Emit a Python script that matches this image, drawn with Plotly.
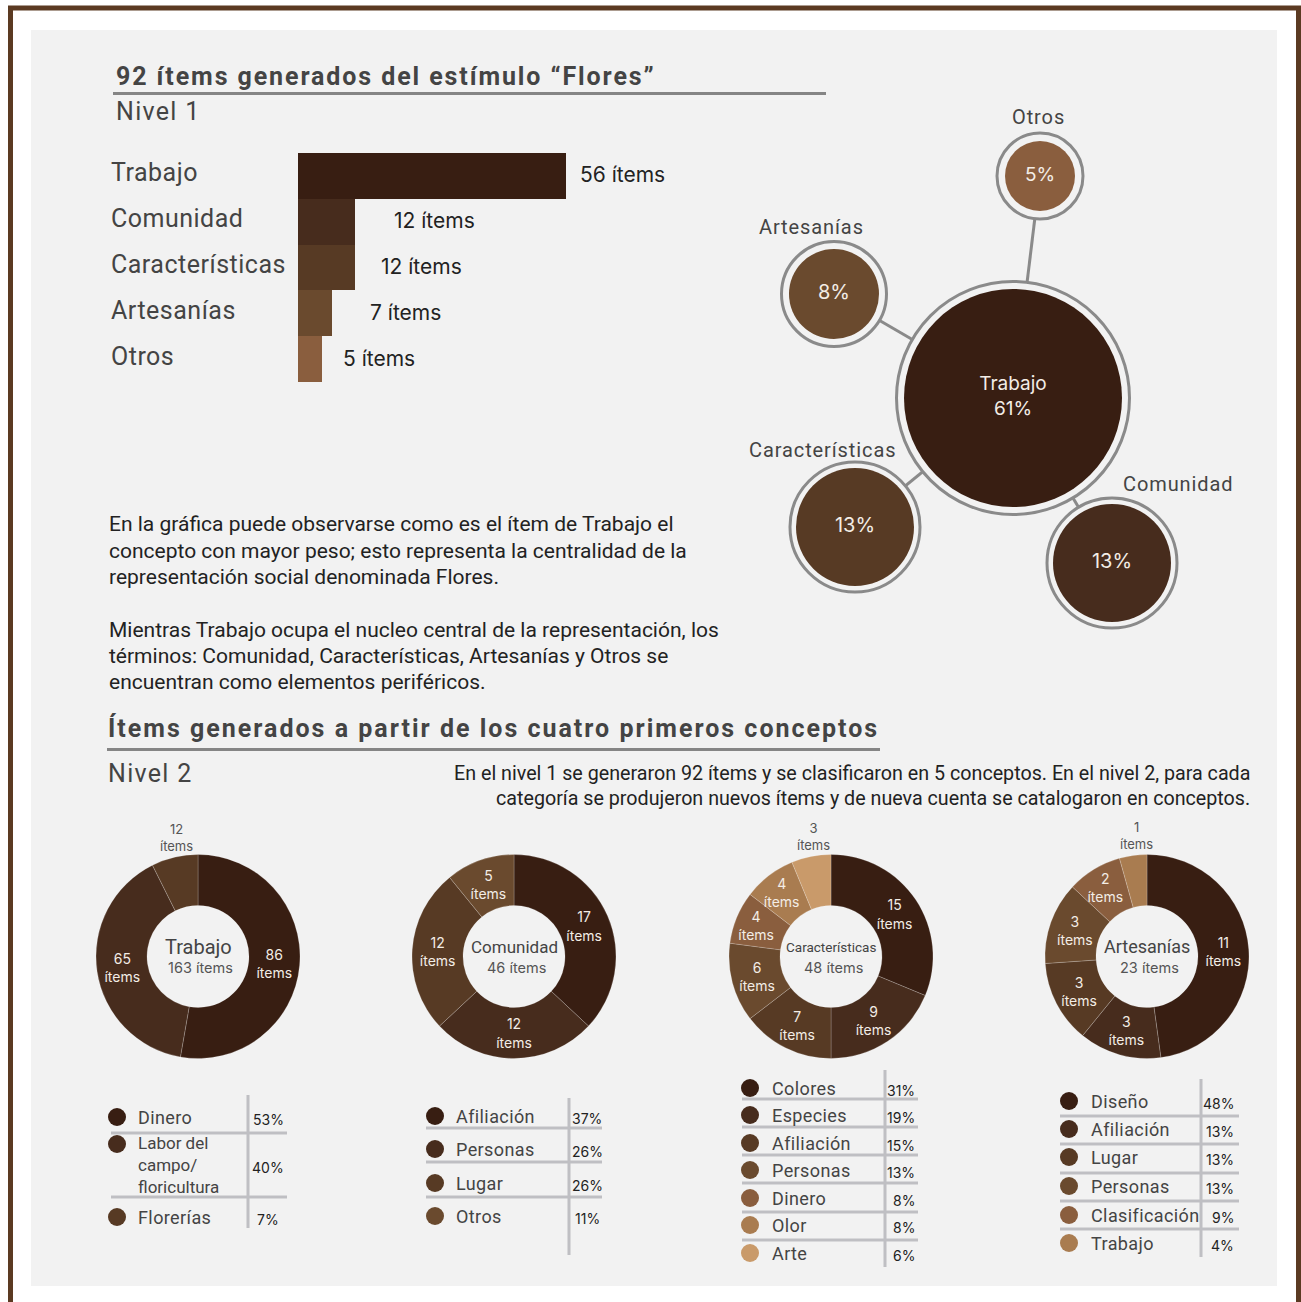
import math
import plotly.graph_objects as go

W, H = 1301, 1302

# ---------------- data ----------------
lvl1_concepts = ["Trabajo", "Comunidad", "Características", "Artesanías", "Otros"]
lvl1_items = [56, 12, 12, 7, 5]
lvl1_pct = [61, 13, 13, 8, 5]

trabajo_cats = ["Dinero", "Labor del campo/floricultura", "Florerías"]
trabajo_items = [86, 65, 12]
trabajo_pct = [53, 40, 7]

comunidad_cats = ["Afiliación", "Personas", "Lugar", "Otros"]
comunidad_items = [17, 12, 12, 5]
comunidad_pct = [37, 26, 26, 11]

caract_cats = ["Colores", "Especies", "Afiliación", "Personas", "Dinero", "Olor", "Arte"]
caract_items = [15, 9, 7, 6, 4, 4, 3]
caract_pct = [31, 19, 15, 13, 8, 8, 6]

artes_cats = ["Diseño", "Afiliación", "Lugar", "Personas", "Clasificación", "Trabajo"]
artes_items = [11, 3, 3, 3, 2, 1]
artes_pct = [48, 13, 13, 13, 9, 4]

title1 = "92 ítems generados del estímulo “Flores”"
title2 = "Ítems generados a partir de los cuatro primeros conceptos"
para1 = ["En la gráfica puede observarse como es el ítem de Trabajo el",
         "concepto con mayor peso; esto representa la centralidad de la",
         "representación social denominada Flores."]
para2 = ["Mientras Trabajo ocupa el nucleo central de la representación, los",
         "términos: Comunidad, Características, Artesanías y Otros se",
         "encuentran como elementos periféricos."]
para3 = ["En el nivel 1 se generaron 92 ítems y se clasificaron en 5 conceptos. En el nivel 2, para cada",
         "categoría se produjeron nuevos ítems y de nueva cuenta se catalogaron en conceptos."]

# ---------------- style ----------------
PAL = ["#381e12", "#472c1d", "#573a24", "#6a4a2e", "#8a5e3e", "#a97c50", "#c99a6a"]
BG = "#f2f2f2"
GRAY_LINE = "#8a8a8a"
TBL_LINE = "#bfbfc3"
TXT = "#444444"
TXT2 = "#222222"
SANS = "Roboto"
SANS2 = "Inter"


def px(x):
    return x / W


def py(y):
    return 1 - y / H


fig = go.Figure()
shapes = []
ann = []


def sp(t, ls):
    return f'<span style="letter-spacing:{ls}px">{t}</span>' if ls else t


def text(t, x, y, size, color=TXT, family=SANS, xanchor="left", yanchor="middle", ls=0, align=None):
    ann.append(dict(text=sp(t, ls), x=px(x), y=py(y), xref="paper", yref="paper",
                    xanchor=xanchor, yanchor=yanchor, showarrow=False,
                    align=align if align else ("left" if xanchor == "left" else
                                               "right" if xanchor == "right" else "center"),
                    font=dict(size=size, color=color, family=family)))


def rect(x0, y0, x1, y1, fill=None, line=None, lw=0, layer="below"):
    shapes.append(dict(type="rect", xref="paper", yref="paper",
                       x0=px(x0), x1=px(x1), y0=py(y0), y1=py(y1),
                       fillcolor=fill if fill else "rgba(0,0,0,0)",
                       line=dict(color=line if line else "rgba(0,0,0,0)", width=lw),
                       layer=layer))


def seg(x0, y0, x1, y1, color, lw):
    shapes.append(dict(type="line", xref="paper", yref="paper",
                       x0=px(x0), x1=px(x1), y0=py(y0), y1=py(y1),
                       line=dict(color=color, width=lw), layer="above"))


# frame and panel
rect(10.5, 8, 1298.5, 1312, fill="white", line="#5b3a22", lw=5)
rect(31, 30, 1277, 1286, fill=BG)

# ---------------- titles and texts ----------------
text("<b>" + sp(title1, 1.9) + "</b>", 114, 77, 25)
rect(113, 92, 826, 95, fill="#858585")
text("Nivel 1", 114, 111, 25, ls=1.3)

for i, l in enumerate(para1):
    text(l, 107, 524 + i * 26.5, 21, TXT2, SANS)
for i, l in enumerate(para2):
    text(l, 107, 630 + i * 26.2, 21, TXT2, SANS)

text("<b>" + sp(title2, 2) + "</b>", 106, 728, 25)
rect(107, 748, 880, 751, fill="#858585")
text("Nivel 2", 106, 773, 25, ls=1.3)
for i, l in enumerate(para3):
    text(l, 1252, 773 + i * 25, 19.7, TXT2, SANS, xanchor="right")

# ---------------- level-1 bar chart ----------------
bar_x0, bar_x1 = 298, 700
bar_top, bar_bot = 153, 382
px_per_item = 268 / 56
fig.add_trace(go.Bar(
    x=lvl1_items, y=lvl1_concepts, orientation="h",
    marker=dict(color=PAL[:5], line=dict(width=0)),
    xaxis="x", yaxis="y", hoverinfo="skip", showlegend=False))
label_offsets = [12, 37, 24, 36, 19]
for name, v, off in zip(lvl1_concepts, lvl1_items, label_offsets):
    ann.append(dict(text=f"{v} ítems", x=v, y=name, xref="x", yref="y",
                    xanchor="left", yanchor="middle", xshift=off, yshift=1,
                    showarrow=False, font=dict(size=21, color=TXT2, family=SANS2)))
    ann.append(dict(text=sp(name, 0.5), x=px(109), y=name, xref="paper", yref="y",
                    xanchor="left", yanchor="middle", yshift=3, showarrow=False,
                    font=dict(size=25, color=TXT, family=SANS)))

# ---------------- bubble chart ----------------
bub_pos = [(1013, 398), (1112, 563), (855, 527), (834, 294), (1040, 176)]
bub_r_in = [109, 59, 59, 45, 35]
bub_r_out = [118, 66.5, 66.5, 54, 44.5]
bub_txt_size = [19, 20, 20, 20, 19]
lx, ly = [], []
for (x, y) in bub_pos[1:]:
    lx += [bub_pos[0][0], x, None]
    ly += [bub_pos[0][1], y, None]
fig.add_trace(go.Scatter(x=lx, y=ly, mode="lines", line=dict(color=GRAY_LINE, width=3),
                         xaxis="x2", yaxis="y2", hoverinfo="skip", showlegend=False))
fig.add_trace(go.Scatter(
    x=[p[0] for p in bub_pos], y=[p[1] for p in bub_pos], mode="markers",
    marker=dict(size=[2 * r - 3 for r in bub_r_out], color=BG,
                line=dict(color=GRAY_LINE, width=3), opacity=1),
    xaxis="x2", yaxis="y2", hoverinfo="skip", showlegend=False))
bub_text = [f"{lvl1_concepts[0]}<br>{lvl1_pct[0]}%"] + [f"{p}%" for p in lvl1_pct[1:]]
fig.add_trace(go.Scatter(
    x=[p[0] for p in bub_pos], y=[p[1] for p in bub_pos], mode="markers+text",
    marker=dict(size=[2 * r for r in bub_r_in], color=PAL[:5], line=dict(width=0), opacity=1),
    text=bub_text, textposition="middle center",
    textfont=dict(color="#f3ede6", size=bub_txt_size, family=SANS2),
    xaxis="x2", yaxis="y2", hoverinfo="skip", showlegend=False))
bub_label_pos = [None, (1178, 484), (822, 450), (811, 227), (1038, 117)]
for name, p in zip(lvl1_concepts, bub_label_pos):
    if p:
        text(name, p[0], p[1], 20, TXT, SANS, xanchor="center", ls=0.9)

# ---------------- donuts ----------------
donuts = [
    ("Trabajo", trabajo_cats, trabajo_items, trabajo_pct, 198, 20),
    ("Comunidad", comunidad_cats, comunidad_items, comunidad_pct, 514, 17),
    ("Características", caract_cats, caract_items, caract_pct, 831, 13.5),
    ("Artesanías", artes_cats, artes_items, artes_pct, 1147, 18),
]
outside_slices = {"Trabajo": [2], "Características": [6], "Artesanías": [5]}
cy, R = 956.5, 102
for name, cats, items, pct, cx, tsize in donuts:
    n = len(items)
    outs = outside_slices.get(name, [])
    pos = ["none" if i in outs else "inside" for i in range(n)]
    fig.add_trace(go.Pie(
        values=items, labels=cats, sort=False, direction="clockwise", rotation=0,
        hole=0.5, marker=dict(colors=PAL[:n], line=dict(color="rgba(255,255,255,0.25)", width=0.8)),
        text=[f"{v}<br>ítems" for v in items], textinfo="text", textposition=pos,
        insidetextorientation="horizontal",
        insidetextfont=dict(color="#f3ede6", size=14, family=SANS2),
        domain=dict(x=[px(cx - R), px(cx + R)], y=[py(cy + R), py(cy - R)]),
        hoverinfo="skip", showlegend=False))
    total = sum(items)
    for i in outs:
        mid = (sum(items[:i]) + items[i] / 2) / total * 2 * math.pi
        d = R + 20
        text(f"{items[i]}<br>ítems", cx + d * math.sin(mid) + 6, cy - d * math.cos(mid),
             13, "#555555", SANS2, xanchor="center")
    text(name, cx, cy - 10, tsize, TXT, SANS, xanchor="center")
    text(f"{total} ítems", cx + 2, cy + 10.5, 14.5, "#555555", SANS2, xanchor="center")

# ---------------- legend tables ----------------
tables = [
    dict(cats=trabajo_cats, pct=trabajo_pct, dot_x=117, lab_x=136, pct_x=268, align="center",
         rows=[1117, 1165, 1217], wrap={1: "Labor del<br>campo/<br>floricultura"},
         seps=[1133, 1197], sx=(111, 287), vx=248, vy=(1095, 1228)),
    dict(cats=comunidad_cats, pct=comunidad_pct, dot_x=435, lab_x=454, pct_x=587, align="center",
         rows=[1116, 1149, 1183, 1216], wrap={},
         seps=[1128, 1162, 1197], sx=(426, 602), vx=569, vy=(1098, 1255)),
    dict(cats=caract_cats, pct=caract_pct, dot_x=750, lab_x=770, pct_x=917, align="right",
         rows=[1088, 1115, 1143, 1170, 1198, 1225, 1253], wrap={},
         seps=[1099, 1127, 1155, 1183, 1212, 1240], sx=(742, 918), vx=885, vy=(1070, 1267)),
    dict(cats=artes_cats, pct=artes_pct, dot_x=1069, lab_x=1089, pct_x=1236, align="right",
         rows=[1101, 1129, 1157, 1186, 1215, 1243], wrap={},
         seps=[1116, 1144, 1173, 1201, 1229], sx=(1060, 1239), vx=1201, vy=(1079, 1257)),
]
dot_x, dot_y, dot_c = [], [], []
for t in tables:
    for s in t["seps"]:
        seg(t["sx"][0], s, t["sx"][1], s, TBL_LINE, 3)
    seg(t["vx"], t["vy"][0], t["vx"], t["vy"][1], TBL_LINE, 3)
    for i, (c, p, y) in enumerate(zip(t["cats"], t["pct"], t["rows"])):
        if i in t["wrap"]:
            text(t["wrap"][i], t["lab_x"], y, 17, TXT, SANS, align="left")
            ydot = y - 21
        else:
            text(c, t["lab_x"], y, 18, TXT, SANS, ls=0.4)
            ydot = y
        text(f"{p}%", t["pct_x"], y + 2, 14, TXT2, SANS2,
             xanchor="center" if t["align"] == "center" else "right")
        dot_x.append(t["dot_x"])
        dot_y.append(ydot)
        dot_c.append(PAL[i])
fig.add_trace(go.Scatter(x=dot_x, y=dot_y, mode="markers",
                         marker=dict(size=18, color=dot_c, line=dict(width=0)),
                         xaxis="x2", yaxis="y2", hoverinfo="skip", showlegend=False))

fig.update_layout(
    width=W, height=H, margin=dict(l=0, r=0, t=0, b=0),
    paper_bgcolor="white", plot_bgcolor="rgba(0,0,0,0)",
    showlegend=False, bargap=0,
    uniformtext=dict(minsize=14, mode="show"),
    xaxis=dict(domain=[px(bar_x0), px(bar_x1)], range=[0, (bar_x1 - bar_x0) / px_per_item],
               visible=False, fixedrange=True),
    yaxis=dict(domain=[py(bar_bot), py(bar_top)], autorange="reversed",
               visible=False, fixedrange=True, anchor="x"),
    xaxis2=dict(domain=[0, 1], range=[0, W], visible=False, fixedrange=True, anchor="y2"),
    yaxis2=dict(domain=[0, 1], range=[H, 0], visible=False, fixedrange=True, anchor="x2"),
    shapes=shapes, annotations=ann,
)

fig.write_html("out.html")
